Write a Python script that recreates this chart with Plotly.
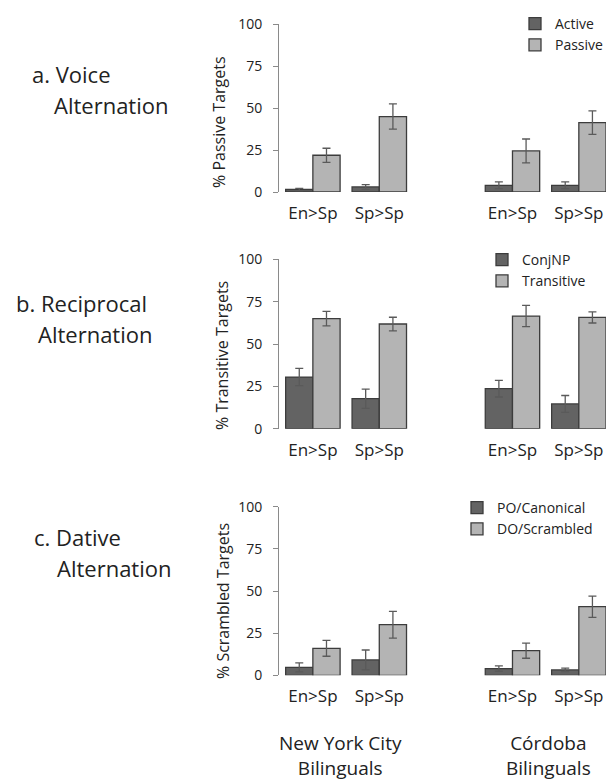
import plotly.graph_objects as go

# ---------------- data ----------------
conditions = ["En>Sp", "Sp>Sp"]
groups = ["New York City<br>Bilinguals", "Córdoba<br>Bilinguals"]
panel_titles = ["a. Voice", "b. Reciprocal", "c. Dative"]
panel_subtitles = ["Alternation", "Alternation", "Alternation"]
y_titles = ["% Passive Targets", "% Transitive Targets", "% Scrambled Targets"]
series_names = [["Active", "Passive"], ["ConjNP", "Transitive"], ["PO/Canonical", "DO/Scrambled"]]
y_ticks = [0, 25, 50, 75, 100]

# values per panel: [series][group][condition]
voice_active_nyc = [1.5, 3.0]
voice_active_cor = [4.0, 4.0]
voice_passive_nyc = [21.9, 45.0]
voice_passive_cor = [24.5, 41.4]
voice_active_err_nyc = [0.7, 1.4]
voice_active_err_cor = [2.0, 2.0]
voice_passive_err_nyc = [4.2, 7.5]
voice_passive_err_cor = [7.1, 7.0]

recip_conj_nyc = [30.5, 17.7]
recip_conj_cor = [23.6, 14.6]
recip_trans_nyc = [65.0, 61.8]
recip_trans_cor = [66.5, 65.7]
recip_conj_err_nyc = [5.1, 5.7]
recip_conj_err_cor = [4.9, 5.0]
recip_trans_err_nyc = [4.3, 4.0]
recip_trans_err_cor = [6.3, 3.3]

dative_po_nyc = [4.7, 9.1]
dative_po_cor = [4.0, 3.2]
dative_do_nyc = [16.0, 30.0]
dative_do_cor = [14.6, 40.7]
dative_po_err_nyc = [2.7, 5.9]
dative_po_err_cor = [1.6, 1.0]
dative_do_err_nyc = [4.7, 7.9]
dative_do_err_cor = [4.5, 6.3]

panels = [
    dict(dark=(voice_active_nyc, voice_active_cor), light=(voice_passive_nyc, voice_passive_cor),
         dark_err=(voice_active_err_nyc, voice_active_err_cor), light_err=(voice_passive_err_nyc, voice_passive_err_cor)),
    dict(dark=(recip_conj_nyc, recip_conj_cor), light=(recip_trans_nyc, recip_trans_cor),
         dark_err=(recip_conj_err_nyc, recip_conj_err_cor), light_err=(recip_trans_err_nyc, recip_trans_err_cor)),
    dict(dark=(dative_po_nyc, dative_po_cor), light=(dative_do_nyc, dative_do_cor),
         dark_err=(dative_po_err_nyc, dative_po_err_cor), light_err=(dative_do_err_nyc, dative_do_err_cor)),
]

# ---------------- style ----------------
W, H = 614, 781
OFF = 8  # page body margin offset
FONT = "Open Sans"
DARK = "#636363"
LIGHT = "#b4b4b4"
EDGE = "#3c3c3c"
ERRC = "#5a5a5a"
AXC = "#8a8a8a"
TXT = "#222222"

def px_x(p):
    return (p - OFF) / W

def px_y(p):
    return 1 - (p - OFF) / H

# plot regions in window pixels (top, bottom)
rows_px = [(24.3, 192.0), (259.3, 428.7), (506.7, 675.3)]
left_px = (279, 412.5)
right_px = (479.3, 612)
legend_pos = [(515, 8), (482, 244), (457, 492)]
ytitle_pos = [(219, 122), (222, 356), (223, 601)]
label_pos = [(74, 105), (303, 334), (537, 568)]
label_x = [(30, 52), (14, 36), (32, 55)]

fig = go.Figure()
layout = dict(
    width=W, height=H, margin=dict(l=0, r=0, t=0, b=0, autoexpand=False),
    paper_bgcolor="white", plot_bgcolor="white",
    barmode="group", bargap=0.18, bargroupgap=0.0,
    font=dict(family=FONT, color=TXT),
)

annotations = []
ax_idx = 0
for r, pan in enumerate(panels):
    top, bot = rows_px[r]
    legname = "legend" if r == 0 else f"legend{r+1}"
    for g in range(2):
        ax_idx += 1
        xa = "x" if ax_idx == 1 else f"x{ax_idx}"
        ya = "y" if ax_idx == 1 else f"y{ax_idx}"
        xkey = "xaxis" if ax_idx == 1 else f"xaxis{ax_idx}"
        ykey = "yaxis" if ax_idx == 1 else f"yaxis{ax_idx}"
        for s, (key, ekey, col) in enumerate([("dark", "dark_err", DARK), ("light", "light_err", LIGHT)]):
            fig.add_trace(go.Bar(
                x=conditions, y=pan[key][g], name=series_names[r][s],
                marker=dict(color=col, line=dict(color=EDGE, width=1.3)),
                error_y=dict(type="data", array=pan[ekey][g], color=ERRC, thickness=1.3, width=4),
                xaxis=xa, yaxis=ya, legend=legname, showlegend=(g == 0),
                offsetgroup=str(s),
            ))
        dom = left_px if g == 0 else right_px
        rng = [-0.51, 1.5] if g == 0 else [-0.5, 1.5]
        layout[xkey] = dict(
            domain=[px_x(dom[0]), px_x(dom[1])], anchor=ya, range=rng,
            showline=False, showgrid=False, zeroline=False, ticks="",
            tickfont=dict(family=FONT, size=17, color=TXT), fixedrange=True,
            ticklabelstandoff=9, automargin=False,
        )
        layout[ykey] = dict(
            domain=[px_y(bot), px_y(top)], anchor=xa, range=[0, 100],
            showgrid=False, zeroline=False, fixedrange=True,
            showline=(g == 0), linecolor=AXC, linewidth=1,
            ticks="outside" if g == 0 else "", ticklen=5, tickcolor=AXC,
            tickvals=y_ticks, showticklabels=(g == 0),
            tickfont=dict(family=FONT, size=14, color=TXT),
            ticklabelstandoff=8, automargin=False,
        )
    lx, ly = legend_pos[r]
    layout[legname] = dict(
        x=px_x(lx), y=px_y(ly), xanchor="left", yanchor="top",
        bgcolor="rgba(0,0,0,0)", borderwidth=0, itemwidth=30,
        font=dict(family=FONT, size=14, color=TXT),
        tracegroupgap=0, traceorder="normal",
    )
    # y-axis title
    tx, ty = ytitle_pos[r]
    annotations.append(dict(
        x=px_x(tx), y=px_y(ty), xref="paper", yref="paper", text=y_titles[r],
        textangle=-90, showarrow=False, font=dict(family=FONT, size=16, color=TXT),
        xanchor="center", yanchor="middle",
    ))
    # panel labels
    y1, y2 = label_pos[r]
    x1, x2 = label_x[r]
    annotations.append(dict(
        x=px_x(x1), y=px_y(y1), xref="paper", yref="paper", text=panel_titles[r],
        showarrow=False, font=dict(family=FONT, size=22, color=TXT),
        xanchor="left", yanchor="middle",
    ))
    annotations.append(dict(
        x=px_x(x2), y=px_y(y2), xref="paper", yref="paper", text=panel_subtitles[r],
        showarrow=False, font=dict(family=FONT, size=22, color=TXT),
        xanchor="left", yanchor="middle",
    ))

# group labels at bottom
for g, cx in enumerate([340, 548]):
    annotations.append(dict(
        x=px_x(cx), y=px_y(755), xref="paper", yref="paper", text=groups[g],
        showarrow=False, font=dict(family=FONT, size=19, color=TXT),
        xanchor="center", yanchor="middle", align="center",
    ))

layout["annotations"] = annotations
fig.update_layout(**layout)
fig.write_html("out.html")
